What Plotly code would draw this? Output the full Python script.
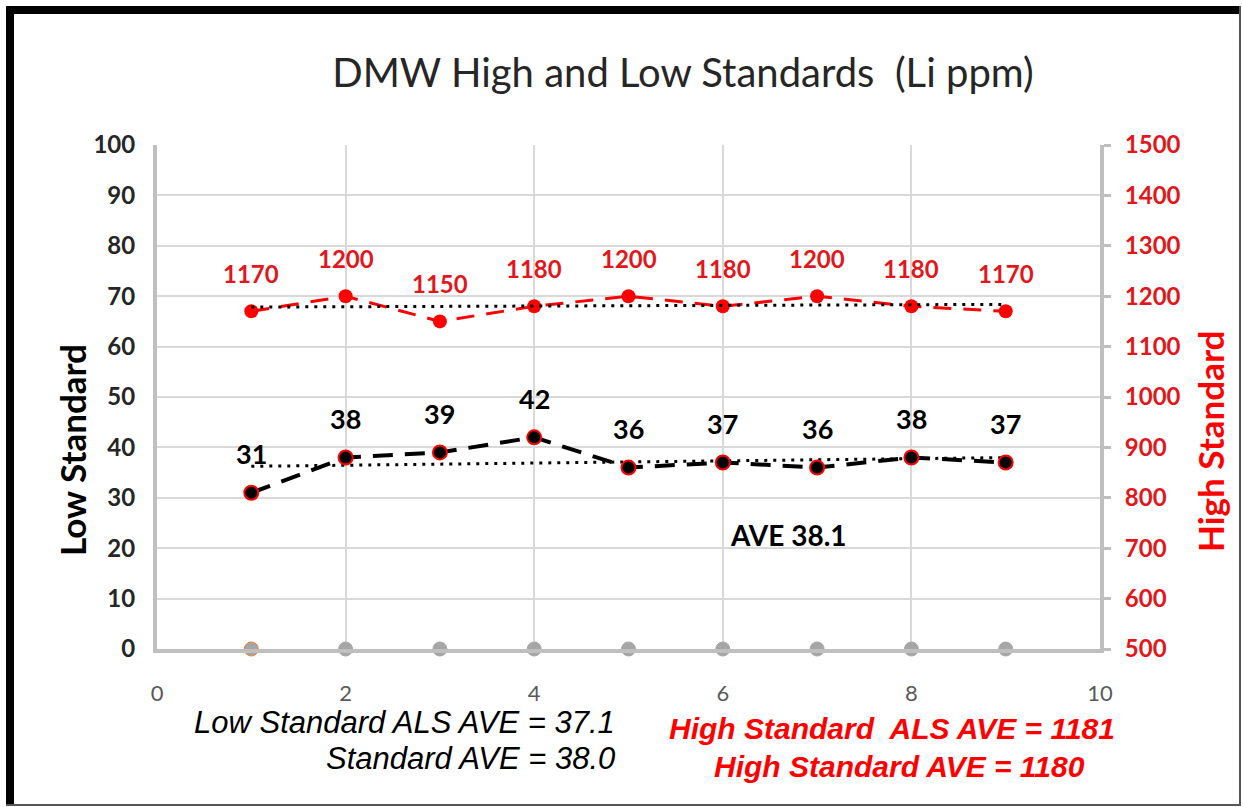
import numpy as np
import plotly.graph_objects as go

# ---- data ----
runs = [1, 2, 3, 4, 5, 6, 7, 8, 9]
low_standard = [31, 38, 39, 42, 36, 37, 36, 38, 37]
high_standard = [1170, 1200, 1150, 1180, 1200, 1180, 1200, 1180, 1170]
baseline = [0, 0, 0, 0, 0, 0, 0, 0, 0]

left_ticks = [0, 10, 20, 30, 40, 50, 60, 70, 80, 90, 100]
right_ticks = [500, 600, 700, 800, 900, 1000, 1100, 1200, 1300, 1400, 1500]
x_ticks = [0, 2, 4, 6, 8, 10]

title_text = "DMW High and Low Standards\u00a0 (Li ppm)"
low_note_1 = "Low Standard ALS AVE = 37.1"
low_note_2 = "Standard AVE = 38.0"
high_note_1 = "High Standard\u00a0 ALS AVE = 1181"
high_note_2 = "High Standard AVE = 1180"
ave_note = "AVE 38.1"
ave_note_pos = (6.7, 22.6)

# linear trendlines computed from the data
xa = np.array(runs, dtype=float)
low_fit = np.polyfit(xa, np.array(low_standard, dtype=float), 1)
high_fit = np.polyfit(xa, np.array(high_standard, dtype=float), 1)
low_trend = np.polyval(low_fit, xa)
high_trend = np.polyval(high_fit, xa)

FONT = "Lato"
RED = "#FF0000"
RED_TXT = "#E3161B"
GRID = "#D9D9D9"
AXIS = "#BFBFBF"

fig = go.Figure()

# grey baseline points
fig.add_trace(go.Scatter(
    x=runs, y=baseline, mode="markers",
    marker=dict(size=14, color="#A6A6A6",
                line=dict(width=1, color=["#ED7D31"] + ["#A6A6A6"] * 8)),
    cliponaxis=False, showlegend=False, hoverinfo="skip"))

# high standard (right axis)
fig.add_trace(go.Scatter(
    x=runs, y=high_standard, yaxis="y2", mode="lines+markers",
    line=dict(color=RED, width=3, dash="18px,12px"),
    marker=dict(size=14, color=RED),
    showlegend=False))

# low standard
fig.add_trace(go.Scatter(
    x=runs, y=low_standard, mode="lines",
    line=dict(color="black", width=4, dash="20px,12px"),
    showlegend=False))

# trendlines
fig.add_trace(go.Scatter(
    x=runs, y=high_trend, yaxis="y2", mode="lines",
    line=dict(color="black", width=3, dash="3px,6px"),
    showlegend=False, hoverinfo="skip"))
fig.add_trace(go.Scatter(
    x=runs, y=low_trend, mode="lines",
    line=dict(color="black", width=3, dash="3px,6px"),
    showlegend=False, hoverinfo="skip"))

# low standard markers on top
fig.add_trace(go.Scatter(
    x=runs, y=low_standard, mode="markers",
    marker=dict(size=14, color="black", line=dict(width=2, color=RED)),
    showlegend=False))

annotations = []
for xv, yv in zip(runs, low_standard):
    annotations.append(dict(x=xv, y=yv, xref="x", yref="y", text=str(yv),
                            showarrow=False, yshift=39, yanchor="middle",
                            font=dict(family=FONT, size=27, color="black", weight="bold")))
for xv, yv in zip(runs, high_standard):
    annotations.append(dict(x=xv, y=yv, xref="x", yref="y2", text=str(yv),
                            showarrow=False, yshift=38, yanchor="middle",
                            font=dict(family=FONT, size=24, color=RED_TXT, weight="bold")))

annotations.append(dict(x=ave_note_pos[0], y=ave_note_pos[1], xref="x", yref="y",
                        text=ave_note, showarrow=False, yanchor="middle",
                        font=dict(family=FONT, size=28, color="black", weight="bold")))

# axis titles
annotations.append(dict(x=(72 - 157) / 943, y=(649 - 450) / 504, xref="paper", yref="paper",
                        text="Low Standard", textangle=-90, showarrow=False,
                        xanchor="center", yanchor="middle",
                        font=dict(family=FONT, size=35, color="black", weight="bold")))
annotations.append(dict(x=(1210 - 157) / 943, y=(649 - 442) / 504, xref="paper", yref="paper",
                        text="High Standard", textangle=-90, showarrow=False,
                        xanchor="center", yanchor="middle",
                        font=dict(family=FONT, size=35, color=RED, weight="bold")))

# notes below
annotations.append(dict(x=(617 - 157) / 943, y=(649 - 722) / 504, xref="paper", yref="paper",
                        text=low_note_1, showarrow=False, xanchor="right", yanchor="middle",
                        font=dict(family="Liberation Sans", size=31, color="black", style="italic")))
annotations.append(dict(x=(617 - 157) / 943, y=(649 - 758) / 504, xref="paper", yref="paper",
                        text=low_note_2, showarrow=False, xanchor="right", yanchor="middle",
                        font=dict(family="Liberation Sans", size=31, color="black", style="italic")))
annotations.append(dict(x=(892 - 157) / 943, y=(649 - 729) / 504, xref="paper", yref="paper",
                        text=high_note_1, showarrow=False, xanchor="center", yanchor="middle",
                        font=dict(family="Liberation Sans", size=30, color=RED, style="italic", weight="bold")))
annotations.append(dict(x=(899 - 157) / 943, y=(649 - 766) / 504, xref="paper", yref="paper",
                        text=high_note_2, showarrow=False, xanchor="center", yanchor="middle",
                        font=dict(family="Liberation Sans", size=30, color=RED, style="italic", weight="bold")))

def px_x(p):
    return (p - 157) / 943

def px_y(p):
    return (649 - p) / 504

shapes = [
    dict(type="line", xref="paper", yref="paper", x0=px_x(6), x1=px_x(1241), y0=px_y(10), y1=px_y(10),
         line=dict(color="black", width=8)),
    dict(type="line", xref="paper", yref="paper", x0=px_x(10), x1=px_x(10), y0=px_y(6), y1=px_y(806),
         line=dict(color="black", width=8)),
    dict(type="line", xref="paper", yref="paper", x0=px_x(1240), x1=px_x(1240), y0=px_y(6), y1=px_y(806),
         line=dict(color="#555555", width=2)),
    dict(type="line", xref="paper", yref="paper", x0=px_x(6), x1=px_x(1241), y0=px_y(805), y1=px_y(805),
         line=dict(color="#555555", width=2)),
]

fig.update_layout(
    width=1243, height=807,
    margin=dict(l=157, r=143, t=145, b=158),
    paper_bgcolor="white", plot_bgcolor="white",
    title=dict(text=title_text, x=(683 - 157) / 943, xref="paper", xanchor="center",
               y=1 - 73 / 807, yanchor="middle",
               font=dict(family=FONT, size=40, color="#262626")),
    xaxis=dict(range=[0, 10], tickvals=x_ticks, showgrid=True, gridcolor=GRID, gridwidth=2,
               showline=True, linecolor=AXIS, linewidth=4, zeroline=False,
               ticks="", ticklabelstandoff=22,
               tickfont=dict(family=FONT, size=22, color="#595959")),
    yaxis=dict(range=[0, 100], tickvals=left_ticks, showgrid=True, gridcolor=GRID, gridwidth=2,
               showline=True, linecolor=AXIS, linewidth=4, zeroline=False,
               ticks="", ticklabelstandoff=13,
               tickfont=dict(family=FONT, size=24, color="#262626", weight="bold")),
    yaxis2=dict(range=[500, 1500], tickvals=right_ticks, overlaying="y", side="right",
                showgrid=False, showline=True, linecolor=AXIS, linewidth=4, zeroline=False,
                ticks="outside", ticklen=7, tickwidth=3, tickcolor=AXIS, ticklabelstandoff=9,
                tickfont=dict(family=FONT, size=24, color=RED_TXT, weight="bold")),
    annotations=annotations,
    shapes=shapes,
    showlegend=False,
)

fig.write_html("out.html", config={"displayModeBar": False},
               post_script="document.body.style.margin='0px';")
